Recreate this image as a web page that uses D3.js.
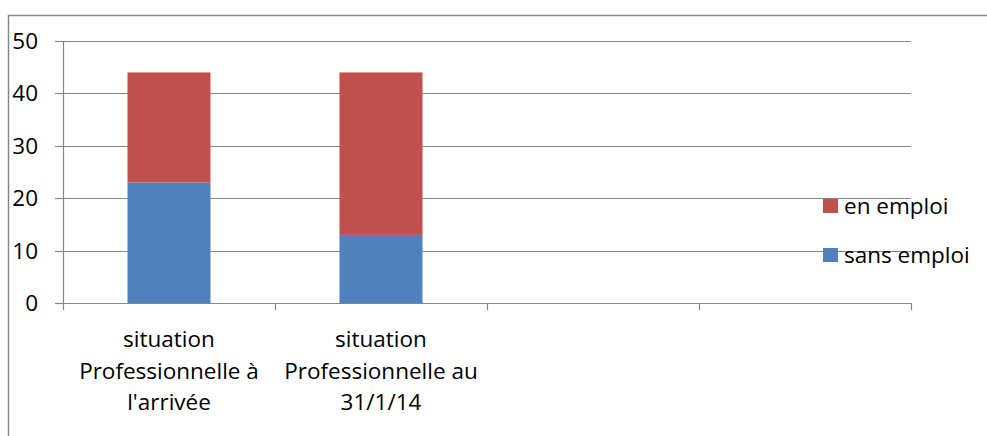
<!DOCTYPE html>
<html><head><meta charset="utf-8">
<script src="https://cdn.jsdelivr.net/npm/d3@7"></script>
<style>body{margin:0;background:#fff;} svg{display:block;} text{font-family:"Open Sans",sans-serif;fill:#000;}</style>
</head><body>
<svg id="c" width="987" height="436"></svg>
<script>
const categories = [["situation","Professionnelle à","l'arrivée"],["situation","Professionnelle au","31/1/14"],[""],[" "]];
const catKeys = ["c1","c2","c3","c4"];
const seriesNames = ["sans emploi","en emploi"];
const sansEmploi = [23,13,null,null];
const enEmploi = [21,31,null,null];
const yTicks = [0,10,20,30,40,50];
const colors = ["#4F81BD","#C0504D"];

const svg = d3.select("#c");
const FS = 22.5;
// chart border
svg.append("rect").attr("x",8.5).attr("y",15.5).attr("width",1000).attr("height",500)
  .attr("fill","none").attr("stroke","#868686").attr("stroke-width",1.5);

const xb = d3.scaleBand().domain(catKeys).range([63,911]);
const y = d3.scaleLinear().domain([0,50]).range([303,41]);

// gridlines
svg.append("g").selectAll("line").data(yTicks.filter(d=>d>0)).join("line")
  .attr("x1",63).attr("x2",911).attr("y1",d=>Math.round(y(d))+0.5).attr("y2",d=>Math.round(y(d))+0.5)
  .attr("stroke","#868686").attr("stroke-width",1.2);

// stacked bars
const rows = catKeys.map((k,i)=>({key:k,"sans emploi":sansEmploi[i]||0,"en emploi":enEmploi[i]||0}));
const stack = d3.stack().keys(seriesNames)(rows);
svg.append("g").selectAll("g").data(stack).join("g").attr("fill",(d,i)=>colors[i])
  .selectAll("rect").data(d=>d.filter(p=>p[1]>p[0])).join("rect")
  .attr("x",d=>xb(d.data.key)+64.5).attr("width",83)
  .attr("y",d=>y(d[1])).attr("height",d=>y(d[0])-y(d[1]));

// y axis
svg.append("line").attr("x1",63.5).attr("x2",63.5).attr("y1",41).attr("y2",303).attr("stroke","#868686").attr("stroke-width",1.2);
svg.append("g").selectAll("line").data(yTicks).join("line")
  .attr("x1",55).attr("x2",63).attr("y1",d=>Math.round(y(d))+0.5).attr("y2",d=>Math.round(y(d))+0.5)
  .attr("stroke","#868686").attr("stroke-width",1.2);
svg.append("g").selectAll("text").data(yTicks).join("text")
  .attr("x",38).attr("y",d=>y(d)+8).attr("text-anchor","end").attr("font-size",FS).text(d=>d);

// x axis
svg.append("line").attr("x1",63).attr("x2",911).attr("y1",303.5).attr("y2",303.5).attr("stroke","#868686").attr("stroke-width",1.2);
const xt = catKeys.map(k=>xb(k)).concat([911]);
svg.append("g").selectAll("line").data(xt).join("line")
  .attr("x1",d=>Math.round(d)+0.5).attr("x2",d=>Math.round(d)+0.5).attr("y1",303).attr("y2",310)
  .attr("stroke","#868686").attr("stroke-width",1.2);
const lab = svg.append("g").selectAll("text").data(catKeys).join("text")
  .attr("x",d=>xb(d)+xb.bandwidth()/2).attr("text-anchor","middle").attr("font-size",FS);
lab.each(function(k,i){
  d3.select(this).selectAll("tspan").data(categories[i]).join("tspan")
    .attr("x",xb(k)+xb.bandwidth()/2).attr("y",(d,j)=>347+j*31.5).text(d=>d);
});

// legend
const legend = [{name:"en emploi",color:colors[1],y:206},{name:"sans emploi",color:colors[0],y:255}];
const lg = svg.append("g").selectAll("g").data(legend).join("g");
lg.append("rect").attr("x",823).attr("y",d=>d.y-7).attr("width",15).attr("height",14).attr("fill",d=>d.color);
lg.append("text").attr("x",844).attr("y",d=>d.y+8).attr("font-size",FS).text(d=>d.name);
</script>
</body></html>
